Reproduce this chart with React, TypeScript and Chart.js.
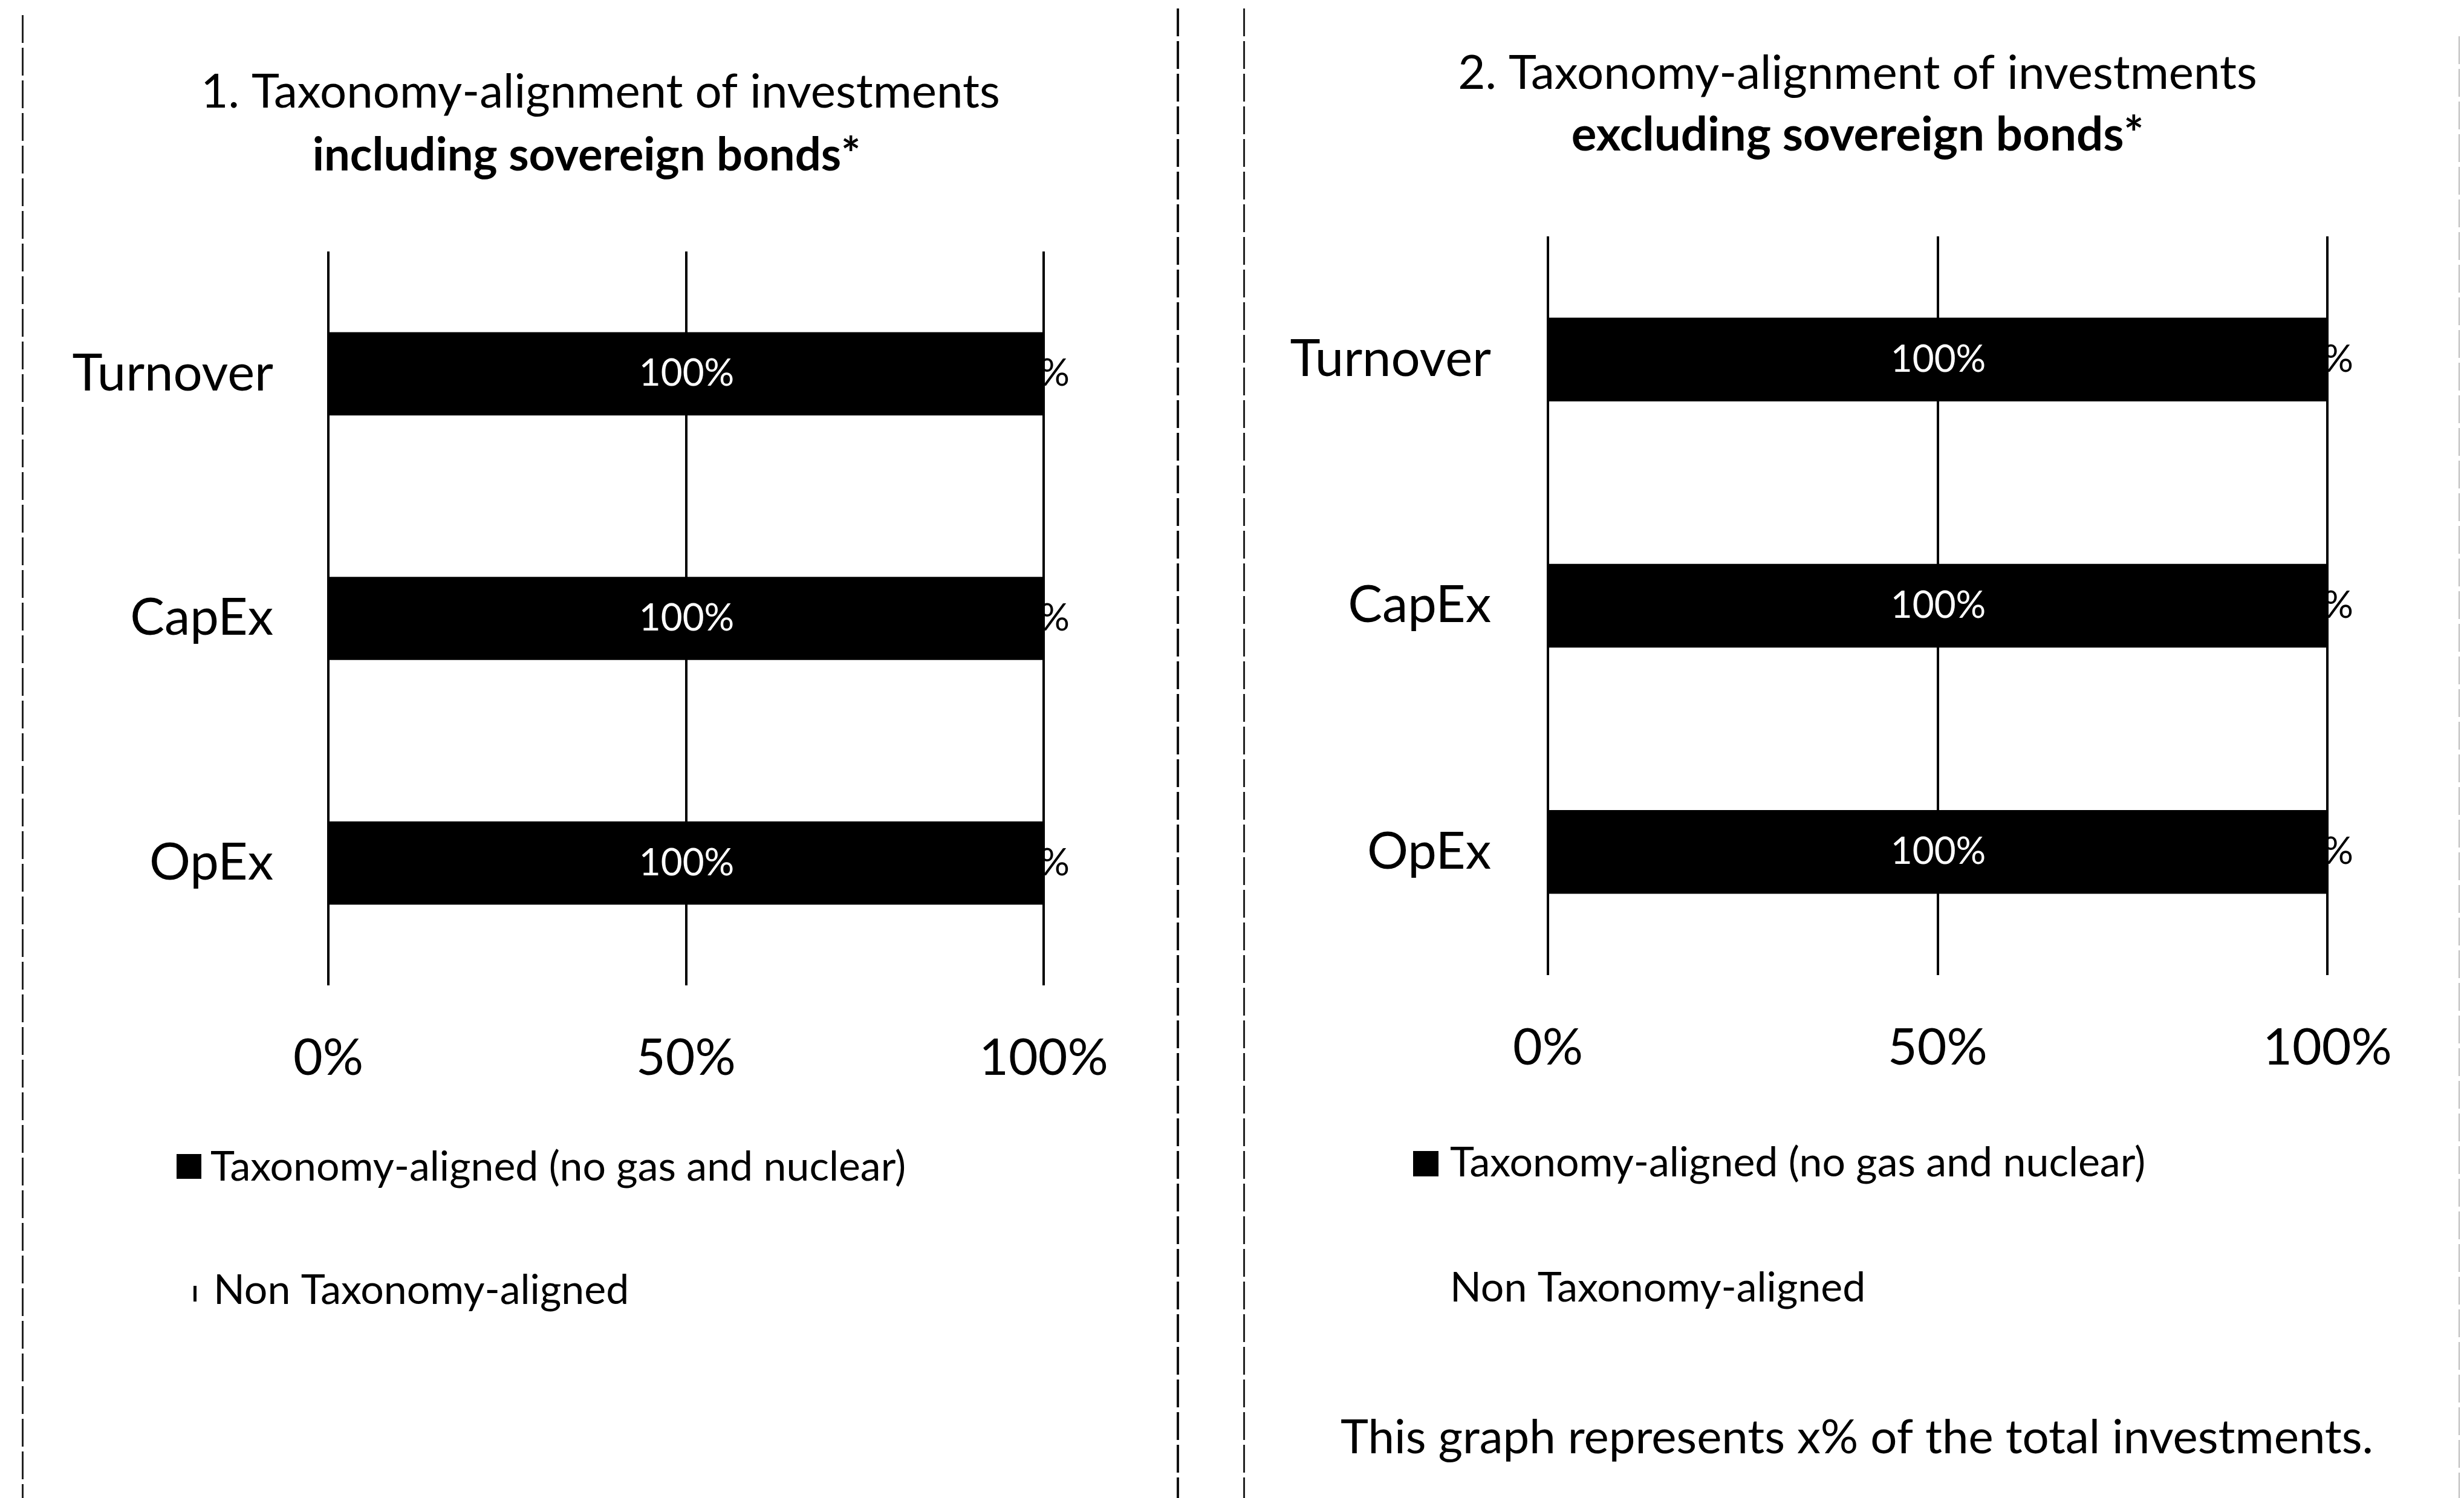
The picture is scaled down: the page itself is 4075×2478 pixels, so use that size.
import React, { useEffect, useRef } from "react";
import { Chart, registerables } from "chart.js";

Chart.register(...registerables);

// ---------- data ----------
const categories = ["Turnover", "CapEx", "OpEx"];
const seriesNames = ["Taxonomy-aligned (no gas and nuclear)", "Non Taxonomy-aligned"];
const alignedInclSovereign = [100, 100, 100];
const nonAlignedInclSovereign = [0, 0, 0];
const alignedExclSovereign = [100, 100, 100];
const nonAlignedExclSovereign = [0, 0, 0];
const xTickValues = [0, 50, 100];
const chart1Title = "1. Taxonomy-alignment of investments";
const chart1Subtitle = "including sovereign bonds*";
const chart2Title = "2. Taxonomy-alignment of investments";
const chart2Subtitle = "excluding sovereign bonds*";
const footnoteText = "This graph represents x% of the total investments.";

const FONT = "Lato, 'Open Sans', sans-serif";
const H = 2478;

type PanelCfg = {
  left: number;
  width: number;
  aligned: number[];
  nonAligned: number[];
  pad: { left: number; right: number; top: number; bottom: number };
  yAxisWidth: number;
  yTickPadding: number;
  xTickPadding: number;
  titles: {
    title: string;
    subtitle: string;
    titleX: number;
    titleY: number;
    subX: number;
    subY: number;
    subSize: number;
  };
  legend: {
    boxX: number;
    boxSize: number;
    boxTops: number[];
    textX: number[];
    baselines: number[];
    markX?: number;
  };
  footnote?: { text: string; x: number; baseline: number };
};

const panels: PanelCfg[] = [
  {
    left: 0,
    width: 2000,
    aligned: alignedInclSovereign,
    nonAligned: nonAlignedInclSovereign,
    pad: { left: 40, right: 274, top: 416, bottom: 648 },
    yAxisWidth: 503,
    yTickPadding: 91,
    xTickPadding: 71,
    titles: {
      title: chart1Title,
      subtitle: chart1Subtitle,
      titleX: 993,
      titleY: 153,
      subX: 970,
      subY: 257,
      subSize: 76,
    },
    legend: {
      boxX: 292,
      boxSize: 41,
      boxTops: [1909, 2113],
      textX: [348, 353],
      baselines: [1953, 2157],
      markX: 320,
    },
  },
  {
    left: 2000,
    width: 2075,
    aligned: alignedExclSovereign,
    nonAligned: nonAlignedExclSovereign,
    pad: { left: 40, right: 226, top: 391, bottom: 665 },
    yAxisWidth: 520,
    yTickPadding: 94,
    xTickPadding: 71,
    titles: {
      title: chart2Title,
      subtitle: chart2Subtitle,
      titleX: 1072,
      titleY: 122,
      subX: 1072,
      subY: 224,
      subSize: 78,
    },
    legend: {
      boxX: 337,
      boxSize: 42,
      boxTops: [1904, 2108],
      textX: [398, 398],
      baselines: [1946, 2153],
    },
    footnote: { text: footnoteText, x: 1071, baseline: 2404 },
  },
];

// ---------- plugins ----------
const barLabelsPlugin = {
  id: "barLabels",
  afterDatasetsDraw(chart: any) {
    const ctx = chart.ctx;
    ctx.save();
    ctx.font = `62px ${FONT}`;
    ctx.textAlign = "center";
    ctx.textBaseline = "middle";
    chart.data.datasets.forEach((ds: any, di: number) => {
      const meta = chart.getDatasetMeta(di);
      meta.data.forEach((el: any, i: number) => {
        const v = ds.data[i] as number;
        const cx = (el.x + el.base) / 2;
        ctx.fillStyle = di === 0 ? "#ffffff" : "#000000";
        ctx.fillText(`${v}%`, cx, el.y);
      });
    });
    ctx.restore();
  },
};

const panelTitlesPlugin = {
  id: "panelTitles",
  afterDraw(chart: any, _args: any, opts: any) {
    if (!opts || !opts.title) return;
    const ctx = chart.ctx;
    ctx.save();
    ctx.fillStyle = "#000000";
    ctx.textAlign = "center";
    ctx.textBaseline = "middle";
    ctx.font = `78px ${FONT}`;
    ctx.fillText(opts.title, opts.titleX, opts.titleY);
    ctx.font = `bold ${opts.subSize}px ${FONT}`;
    ctx.fillText(opts.subtitle, opts.subX, opts.subY);
    ctx.restore();
  },
};

const panelLegendPlugin = {
  id: "panelLegend",
  afterDraw(chart: any, _args: any, opts: any) {
    if (!opts || !opts.boxTops) return;
    const ctx = chart.ctx;
    ctx.save();
    ctx.textAlign = "left";
    ctx.textBaseline = "alphabetic";
    ctx.font = `68px ${FONT}`;
    chart.data.datasets.forEach((ds: any, i: number) => {
      ctx.fillStyle = ds.backgroundColor;
      ctx.fillRect(opts.boxX, opts.boxTops[i], opts.boxSize, opts.boxSize);
      ctx.fillStyle = "#000000";
      ctx.fillText(ds.label, opts.textX[i], opts.baselines[i]);
    });
    if (opts.markX != null) {
      ctx.fillStyle = "#000000";
      ctx.fillRect(opts.markX, opts.baselines[1] - 30, 5, 26);
    }
    if (opts.footnote) {
      ctx.font = `78px ${FONT}`;
      ctx.textAlign = "center";
      ctx.fillText(opts.footnote.text, opts.footnote.x, opts.footnote.baseline);
    }
    ctx.restore();
  },
};

function Panel({ cfg }: { cfg: PanelCfg }) {
  const ref = useRef<HTMLCanvasElement>(null);
  useEffect(() => {
    const canvas = ref.current!;
    const chart = new Chart(canvas, {
      type: "bar",
      data: {
        labels: categories,
        datasets: [
          {
            label: seriesNames[0],
            data: cfg.aligned,
            backgroundColor: "#000000",
            borderWidth: 0,
            barPercentage: 0.34,
            categoryPercentage: 1,
          },
          {
            label: seriesNames[1],
            data: cfg.nonAligned,
            backgroundColor: "#ffffff",
            borderWidth: 0,
            barPercentage: 0.34,
            categoryPercentage: 1,
          },
        ],
      },
      options: {
        indexAxis: "y",
        responsive: false,
        animation: false,
        devicePixelRatio: 1,
        layout: { padding: cfg.pad },
        scales: {
          x: {
            type: "linear",
            stacked: true,
            min: 0,
            max: 100,
            afterBuildTicks: (s: any) => {
              s.ticks = xTickValues.map((v) => ({ value: v }));
            },
            afterFit: (s: any) => {
              s.height = 200;
            },
            grid: { color: "#000000", lineWidth: 4, drawTicks: false },
            border: { display: false },
            ticks: {
              padding: cfg.xTickPadding,
              color: "#000000",
              font: { family: FONT, size: 84 },
              callback: (v: any) => `${v}%`,
              maxRotation: 0,
              autoSkip: false,
            },
          },
          y: {
            stacked: true,
            afterFit: (s: any) => {
              s.width = cfg.yAxisWidth;
            },
            grid: { display: false, drawTicks: false },
            border: { display: false },
            ticks: {
              padding: cfg.yTickPadding,
              color: "#000000",
              font: { family: FONT, size: 85 },
            },
          },
        },
        plugins: {
          legend: { display: false },
          tooltip: { enabled: false },
          title: { display: false },
          panelTitles: cfg.titles,
          panelLegend: { ...cfg.legend, footnote: cfg.footnote },
        } as any,
      },
      plugins: [barLabelsPlugin, panelTitlesPlugin, panelLegendPlugin],
    } as any);
    return () => chart.destroy();
  }, [cfg]);
  return (
    <canvas
      ref={ref}
      width={cfg.width}
      height={H}
      style={{ position: "absolute", left: cfg.left, top: 0, width: cfg.width, height: H }}
    />
  );
}

function VLine({ x, top, color, w }: { x: number; top: number; color: string; w: number }) {
  return (
    <div
      style={{
        position: "absolute",
        left: x,
        top,
        width: w,
        height: H - top,
        backgroundImage: `repeating-linear-gradient(to bottom, ${color} 0px, ${color} 46px, transparent 46px, transparent 54px)`,
      }}
    />
  );
}

export default function App() {
  return (
    <div
      style={{
        position: "absolute",
        left: 0,
        top: 0,
        width: 4075,
        height: H,
        background: "#ffffff",
        overflow: "hidden",
      }}
    >
      <VLine x={36} top={25} color="#222" w={3} />
      <VLine x={1946} top={14} color="#111" w={4} />
      <VLine x={2056} top={14} color="#222" w={3} />
      <VLine x={4066} top={60} color="#bbb" w={2} />
      {panels.map((p, i) => (
        <Panel key={i} cfg={p} />
      ))}
    </div>
  );
}
